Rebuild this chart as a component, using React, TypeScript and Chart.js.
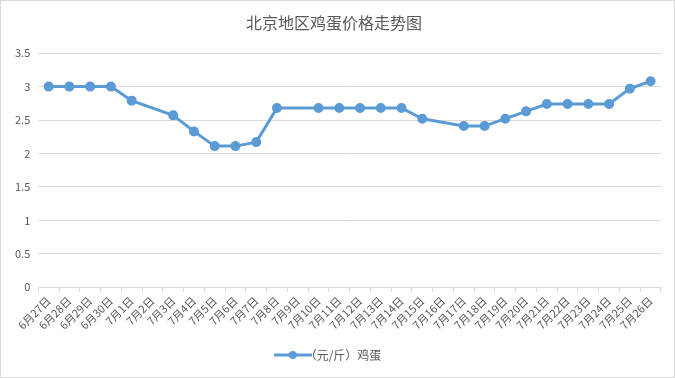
import React, { useEffect, useRef } from "react";
import { Chart, registerables } from "chart.js";
Chart.register(...registerables);

const categories = [
  "6月27日","6月28日","6月29日","6月30日","7月1日","7月2日","7月3日","7月4日","7月5日","7月6日",
  "7月7日","7月8日","7月9日","7月10日","7月11日","7月12日","7月13日","7月14日","7月15日","7月16日",
  "7月17日","7月18日","7月19日","7月20日","7月21日","7月22日","7月23日","7月24日","7月25日","7月26日",
];
const eggPrices: (number | null)[] = [
  3.0, 3.0, 3.0, 3.0, 2.79, null, 2.57, 2.33, 2.11, 2.11,
  2.17, 2.68, null, 2.68, 2.68, 2.68, 2.68, 2.68, 2.52, null,
  2.41, 2.41, 2.52, 2.63, 2.74, 2.74, 2.74, 2.74, 2.97, 3.08,
];
const seriesName = "（元/斤）鸡蛋";
const titleText = "北京地区鸡蛋价格走势图";

const FONT = "'Noto Sans CJK SC', 'Noto Sans', sans-serif";
const BLUE = "#5b9bd5";
const GREY = "#595959";

export default function App() {
  const ref = useRef<HTMLCanvasElement | null>(null);
  useEffect(() => {
    document.body.style.margin = "0";
    const icon = document.createElement("canvas");
    icon.width = 38;
    icon.height = 10;
    const ictx = icon.getContext("2d")!;
    ictx.strokeStyle = BLUE;
    ictx.lineWidth = 3;
    ictx.beginPath();
    ictx.moveTo(0, 5);
    ictx.lineTo(38, 5);
    ictx.stroke();
    ictx.fillStyle = BLUE;
    ictx.beginPath();
    ictx.arc(19, 5, 4, 0, Math.PI * 2);
    ictx.fill();

    const chart = new Chart(ref.current!, {
      type: "line",
      data: {
        labels: categories,
        datasets: [
          {
            label: seriesName,
            data: eggPrices,
            borderColor: BLUE,
            backgroundColor: BLUE,
            borderWidth: 3,
            pointRadius: 3.5,
            pointBackgroundColor: BLUE,
            pointBorderColor: BLUE,
            spanGaps: true,
            tension: 0,
          },
        ],
      },
      options: {
        responsive: false,
        animation: false,
        layout: { padding: { left: 6, right: 13, top: 4, bottom: 6 } },
        plugins: {
          title: {
            display: true,
            text: titleText,
            color: GREY,
            font: { family: FONT, size: 16, weight: "normal" },
            padding: { top: 8, bottom: 21 },
          },
          legend: {
            position: "bottom",
            labels: {
              usePointStyle: true,
              color: GREY,
              font: { family: FONT, size: 12 },
              padding: 15,
              generateLabels: () => [
                {
                  text: seriesName,
                  pointStyle: icon,
                  fontColor: GREY,
                  datasetIndex: 0,
                  hidden: false,
                  lineWidth: 0,
                  strokeStyle: BLUE,
                  fillStyle: BLUE,
                },
              ],
            },
          },
          tooltip: { enabled: false },
        },
        scales: {
          x: {
            offset: true,
            grid: {
              display: true,
              offset: true,
              drawOnChartArea: false,
              drawTicks: true,
              tickLength: 5,
              color: "#d9d9d9",
            },
            border: { display: true, color: "#d9d9d9" },
            ticks: {
              color: GREY,
              font: { family: FONT, size: 11 },
              maxRotation: 45,
              minRotation: 45,
              autoSkip: false,
              padding: 2,
            },
          },
          y: {
            min: 0,
            max: 3.5,
            ticks: {
              stepSize: 0.5,
              color: GREY,
              font: { family: FONT, size: 11 },
              padding: 8,
              callback: (v: any) => String(Number(v)),
            },
            grid: { color: "#d9d9d9", drawTicks: false },
            border: { display: false },
          },
        },
      },
    });
    return () => chart.destroy();
  }, []);
  return (
    <div
      style={{
        width: 675,
        height: 378,
        boxSizing: "border-box",
        border: "1px solid #d9d9d9",
        background: "#fff",
      }}
    >
      <canvas ref={ref} width={673} height={376} />
    </div>
  );
}
